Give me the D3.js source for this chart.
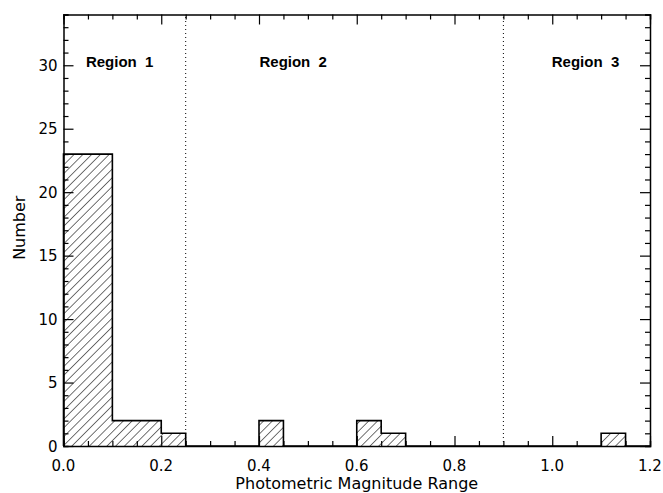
<!DOCTYPE html>
<html>
<head>
<meta charset="utf-8">
<script src="https://cdn.jsdelivr.net/npm/d3@7"></script>
<style>
  body { margin: 0; background: #fff; }
  svg text { font-family: "DejaVu Sans", sans-serif; fill: #000; }
</style>
</head>
<body>
<div id="chart"></div>
<script>
// histogram bins (lower edge, width 0.05) and counts
var binStarts = [0.00, 0.05, 0.10, 0.15, 0.20, 0.25, 0.30, 0.35, 0.40, 0.45, 0.50, 0.55,
                 0.60, 0.65, 0.70, 0.75, 0.80, 0.85, 0.90, 0.95, 1.00, 1.05, 1.10, 1.15];
var counts    = [23, 23, 2, 2, 1, 0, 0, 0, 2, 0, 0, 0,
                 2, 1, 0, 0, 0, 0, 0, 0, 0, 0, 1, 0];
var binWidth = 0.05;

var xTicks = [0.0, 0.2, 0.4, 0.6, 0.8, 1.0, 1.2];
var yTicks = [0, 5, 10, 15, 20, 25, 30];
var regionBounds = [0.25, 0.9];
var regionNames = ["Region  1", "Region  2", "Region  3"];
var regionCenters = [0.115, 0.47, 1.068];

var width = 663, height = 493;
var margin = {left: 63.5, right: 13, top: 14.5, bottom: 47};

var svg = d3.select("#chart").append("svg")
    .attr("width", width)
    .attr("height", height);

var x = d3.scaleLinear().domain([0, 1.2]).range([margin.left, width - margin.right]);
var y = d3.scaleLinear().domain([0, 34]).range([height - margin.bottom, margin.top]);

// hatching pattern
var defs = svg.append("defs");
defs.append("pattern")
    .attr("id", "hatch")
    .attr("patternUnits", "userSpaceOnUse")
    .attr("width", 6.2)
    .attr("height", 6.2)
    .attr("patternTransform", "rotate(45)")
    .append("line")
    .attr("x1", 0).attr("y1", 0)
    .attr("x2", 0).attr("y2", 6.2)
    .attr("stroke", "#000")
    .attr("stroke-width", 1.1);

// step points for histogram outline
var steps = [];
binStarts.forEach(function (b, i) {
    steps.push([b, counts[i]]);
    steps.push([b + binWidth, counts[i]]);
});

var area = d3.area()
    .x(function (d) { return x(d[0]); })
    .y0(y(0))
    .y1(function (d) { return y(d[1]); });

svg.append("path")
    .datum(steps)
    .attr("d", area)
    .attr("fill", "url(#hatch)");

var line = d3.line()
    .x(function (d) { return x(d[0]); })
    .y(function (d) { return y(d[1]); });

svg.append("path")
    .datum([[0, 0]].concat(steps))
    .attr("d", line)
    .attr("fill", "none")
    .attr("stroke", "#000")
    .attr("stroke-width", 1.6);

// dotted region boundaries
svg.selectAll(".region-line")
    .data(regionBounds)
    .enter().append("line")
    .attr("x1", function (d) { return x(d); })
    .attr("x2", function (d) { return x(d); })
    .attr("y1", y(0))
    .attr("y2", y(34))
    .attr("stroke", "#000")
    .attr("stroke-width", 1)
    .attr("stroke-dasharray", "1,3");

svg.selectAll(".region-label")
    .data(regionNames)
    .enter().append("text")
    .attr("x", function (d, i) { return x(regionCenters[i]); })
    .attr("y", y(30) + 1.5)
    .attr("text-anchor", "middle")
    .style("font-family", "'Liberation Sans', sans-serif")
    .style("font-size", "15px")
    .style("font-weight", "bold")
    .style("white-space", "pre")
    .text(function (d) { return d; });

// axes on all four sides, ticks inward
function isMajorX(d) {
    var r = Math.round(d * 100);
    return r % 20 === 0;
}
var minorX = d3.range(0, 25).map(function (i) { return i * 0.05; });
var minorY = d3.range(0, 35);

var axBottom = svg.append("g")
    .attr("transform", "translate(0," + y(0) + ")")
    .call(d3.axisTop(x).tickValues(minorX).tickSize(5).tickFormat(""));
axBottom.selectAll(".tick line").filter(isMajorX).attr("y2", -10);

var axTop = svg.append("g")
    .attr("transform", "translate(0," + y(34) + ")")
    .call(d3.axisBottom(x).tickValues(minorX).tickSize(5).tickFormat(""));
axTop.selectAll(".tick line").filter(isMajorX).attr("y2", 10);

var axLeft = svg.append("g")
    .attr("transform", "translate(" + x(0) + ",0)")
    .call(d3.axisRight(y).tickValues(minorY).tickSize(5).tickFormat(""));
axLeft.selectAll(".tick line").filter(function (d) { return d % 5 === 0; }).attr("x2", 10);

var axRight = svg.append("g")
    .attr("transform", "translate(" + x(1.2) + ",0)")
    .call(d3.axisLeft(y).tickValues(minorY).tickSize(5).tickFormat(""));
axRight.selectAll(".tick line").filter(function (d) { return d % 5 === 0; }).attr("x2", -10);

[axBottom, axTop, axLeft, axRight].forEach(function (g) {
    g.select(".domain").attr("stroke", "#000").attr("stroke-width", 1.5);
    g.selectAll(".tick line").attr("stroke", "#000").attr("stroke-width", 1.2);
});

// tick labels
svg.selectAll(".xlab")
    .data(xTicks)
    .enter().append("text")
    .attr("x", function (d) { return x(d); })
    .attr("y", y(0) + 25)
    .attr("text-anchor", "middle")
    .style("font-size", "15px")
    .text(function (d) { return d.toFixed(1); });

svg.selectAll(".ylab")
    .data(yTicks)
    .enter().append("text")
    .attr("x", x(0) - 6)
    .attr("y", function (d) { return y(d) + 5.5; })
    .attr("text-anchor", "end")
    .style("font-size", "15px")
    .text(function (d) { return d; });

// axis titles
svg.append("text")
    .attr("x", (x(0) + x(1.2)) / 2)
    .attr("y", 489)
    .attr("text-anchor", "middle")
    .style("font-size", "16px")
    .text("Photometric Magnitude Range");

svg.append("text")
    .attr("transform", "translate(25," + y(17.2) + ") rotate(-90)")
    .attr("text-anchor", "middle")
    .style("font-size", "16px")
    .text("Number");
</script>
</body>
</html>
